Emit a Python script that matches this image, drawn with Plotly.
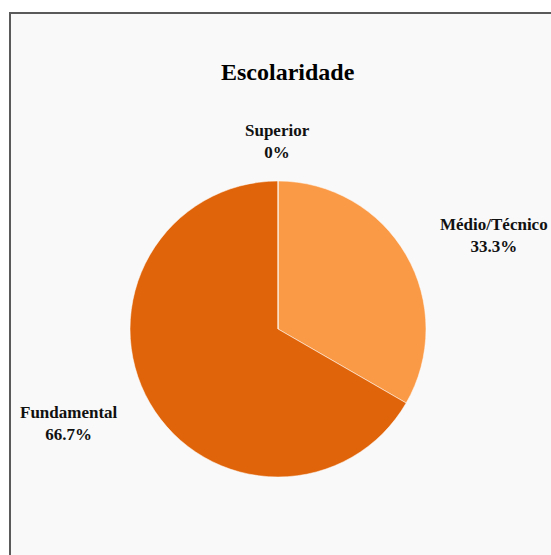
import math
import plotly.graph_objects as go

# Data
categories = ["Médio/Técnico", "Fundamental", "Superior"]
values = [1, 2, 0]
colors = ["#FB9A46", "#E0650A", "#F5B07A"]
title_text = "Escolaridade"

W, H = 551, 555
CX, CY, R = 278, 329, 148  # pie centre / radius in pixels
LABEL_R = 188
FONT = "Liberation Serif, Times New Roman, serif"

def px_x(x):
    return x / W

def px_y(y):
    return 1 - y / H

fig = go.Figure()
fig.add_trace(go.Pie(
    labels=categories,
    values=values,
    sort=False,
    direction="clockwise",
    rotation=0,
    textinfo="none",
    hoverinfo="label+percent",
    marker=dict(colors=colors, line=dict(color="rgba(255,255,255,0.5)", width=1)),
    domain=dict(x=[px_x(CX - R), px_x(CX + R)], y=[px_y(CY + R), px_y(CY - R)]),
    showlegend=False,
))

total = sum(values)
annotations = []
cum = 0.0
for lab, v in zip(categories, values):
    frac = v / total
    mid = (cum + frac / 2) * 2 * math.pi
    cum += frac
    pct = round(frac * 100, 1)
    pct_s = (f"{pct:.1f}".rstrip("0").rstrip(".")) + "%"
    sx, sy = math.sin(mid), -math.cos(mid)
    ax = CX + LABEL_R * sx
    ay = CY + LABEL_R * sy
    if sx > 0.2:
        xanchor = "left"
        ax -= 3
    elif sx < -0.2:
        xanchor = "right"
        ax += 5
    else:
        xanchor = "center"
    annotations.append(dict(
        x=px_x(ax), y=px_y(ay), xref="paper", yref="paper",
        text=f"<b>{lab}</b><br><b>{pct_s}</b>", showarrow=False,
        xanchor=xanchor, yanchor="middle", align="center",
        font=dict(family=FONT, size=17, color="#111"),
    ))

annotations.append(dict(
    x=px_x(288), y=px_y(72), xref="paper", yref="paper",
    text=f"<b>{title_text}</b>", showarrow=False, xanchor="center", yanchor="middle",
    font=dict(family=FONT, size=24, color="#000"),
))

fig.update_layout(
    width=W, height=H,
    margin=dict(l=0, r=0, t=0, b=0),
    paper_bgcolor="white",
    annotations=annotations,
    shapes=[dict(
        type="rect", xref="paper", yref="paper",
        x0=px_x(10), x1=px_x(W + 10), y0=px_y(H + 10), y1=px_y(13),
        fillcolor="#F9F9F9", line=dict(color="#5A5A5A", width=2), layer="below",
    )],
)

fig.write_html("out.html")
